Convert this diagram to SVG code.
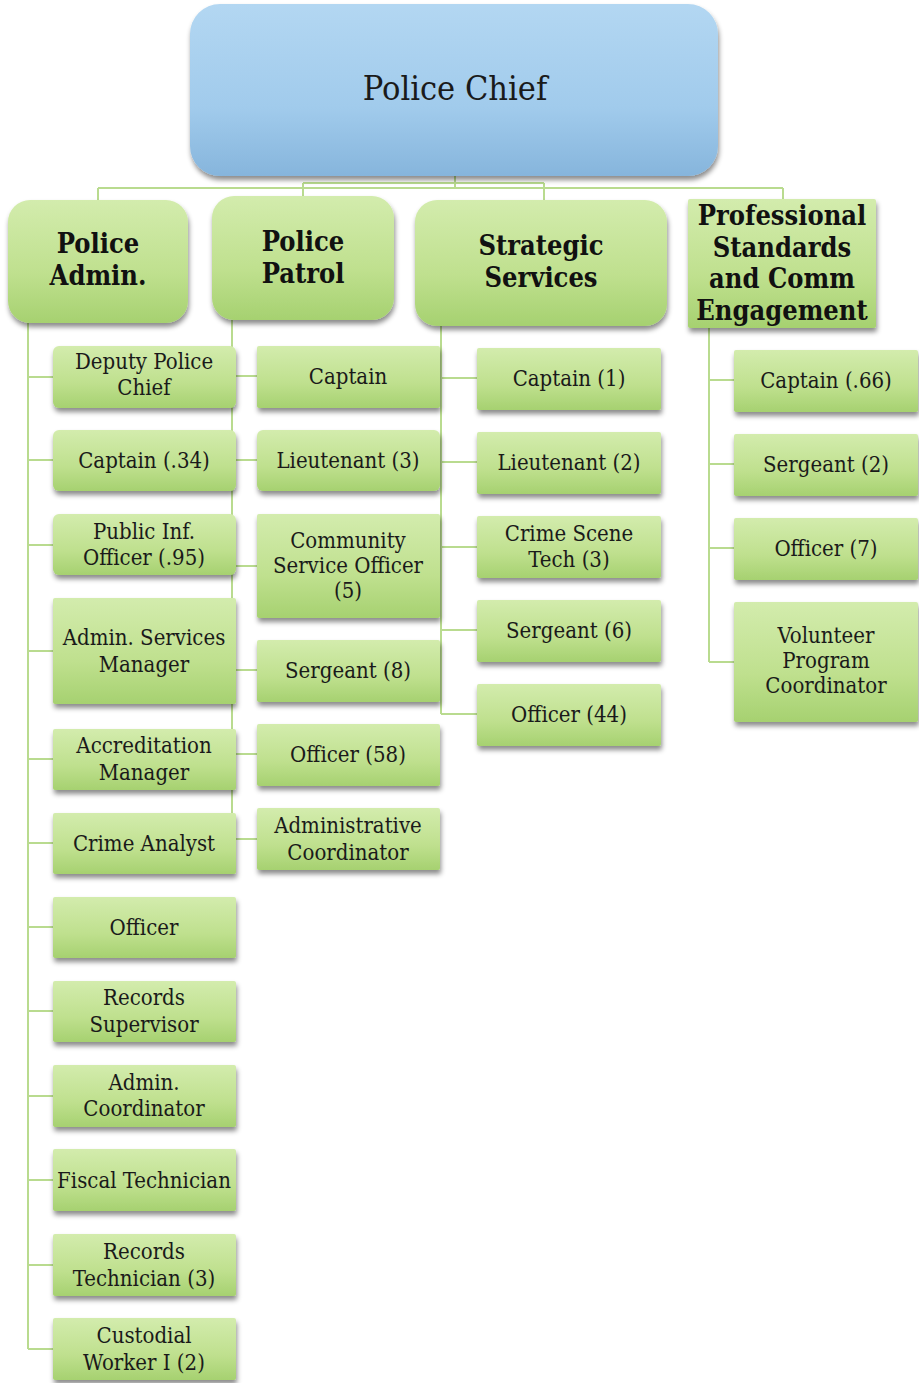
<svg xmlns="http://www.w3.org/2000/svg" width="919" height="1383" viewBox="0 0 919 1383">
<defs>
<linearGradient id="gBlue" x1="0" y1="0" x2="0" y2="1">
<stop offset="0" stop-color="#b3d7f2"/>
<stop offset="0.6" stop-color="#a1cbec"/>
<stop offset="1" stop-color="#86b5dc"/>
</linearGradient>
<linearGradient id="gGreen" x1="0" y1="0" x2="0" y2="1">
<stop offset="0" stop-color="#d3ecad"/>
<stop offset="0.6" stop-color="#bfe08e"/>
<stop offset="1" stop-color="#a6d170"/>
</linearGradient>
<filter id="sh" x="-10%" y="-10%" width="125%" height="130%">
<feDropShadow dx="1" dy="4" stdDeviation="2.5" flood-color="#000" flood-opacity="0.45"/>
</filter>
</defs>
<style>
.conn{fill:none;stroke:#b9db8f;stroke-width:2}
.chief{fill:url(#gBlue);filter:url(#sh)}
.head{fill:url(#gGreen);filter:url(#sh)}
.box{fill:url(#gGreen);filter:url(#sh)}
.tc{font-family:"DejaVu Serif Condensed","DejaVu Serif",serif;font-stretch:condensed;font-size:34px;fill:#1a1a1a;text-anchor:middle}
.th{font-family:"DejaVu Serif Condensed","DejaVu Serif",serif;font-stretch:condensed;font-size:27px;font-weight:bold;fill:#111;text-anchor:middle}
.tb{font-family:"DejaVu Serif Condensed","DejaVu Serif",serif;font-stretch:condensed;font-size:22px;fill:#1a1a1a;text-anchor:middle}
</style>
<rect width="919" height="1383" fill="#ffffff"/>
<g id="connectors">
<path class="conn" d="M455 176 V188 M98 188 H783 M303 183 H544 M98 188 V200 M303 183 V196 M544 183 V200 M783 188 V199"/>
<path class="conn" d="M28 323 V1349 M28 377 H53 M28 460 H53 M28 545 H53 M28 651 H53 M28 759 H53 M28 843 H53 M28 927 H53 M28 1011 H53 M28 1096 H53 M28 1180 H53 M28 1265 H53 M28 1349 H53"/>
<path class="conn" d="M232 320 V839 M232 376 H257 M232 460 H257 M232 566 H257 M232 670 H257 M232 754 H257 M232 839 H257"/>
<path class="conn" d="M441 326 V714 M441 378 H477 M441 462 H477 M441 547 H477 M441 630 H477 M441 714 H477"/>
<path class="conn" d="M709 328 V662 M709 380 H734 M709 464 H734 M709 548 H734 M709 662 H734"/>
</g>
<g id="police-chief">
<rect class="chief" x="190" y="4" width="528" height="172" rx="30"/>
<text class="tc" x="455" y="100">Police Chief</text>
</g>
<g id="police-admin">
<rect class="head" x="8" y="200" width="180" height="123" rx="22"/>
<text class="th" x="98" y="253">Police</text>
<text class="th" x="98" y="285">Admin.</text>
</g>
<g id="police-patrol">
<rect class="head" x="212" y="196" width="182" height="124" rx="22"/>
<text class="th" x="303" y="251">Police</text>
<text class="th" x="303" y="283">Patrol</text>
</g>
<g id="strategic-services">
<rect class="head" x="415" y="200" width="252" height="126" rx="22"/>
<text class="th" x="541" y="255">Strategic</text>
<text class="th" x="541" y="287">Services</text>
</g>
<g id="professional-standards">
<rect class="head" x="688" y="199" width="188" height="129" rx="2"/>
<text class="th" x="782" y="225">Professional</text>
<text class="th" x="782" y="257">Standards</text>
<text class="th" x="782" y="288">and Comm</text>
<text class="th" x="782" y="320">Engagement</text>
</g>
<!-- Police Admin column -->
<g id="deputy-police-chief"><rect class="box" x="53" y="346" width="183" height="62" rx="6"/><text class="tb" x="144" y="369">Deputy Police</text><text class="tb" x="144" y="395">Chief</text></g>
<g id="captain-34"><rect class="box" x="53" y="430" width="183" height="61" rx="6"/><text class="tb" x="144" y="468">Captain (.34)</text></g>
<g id="public-inf-officer"><rect class="box" x="53" y="514" width="183" height="61" rx="6"/><text class="tb" x="144" y="539">Public Inf.</text><text class="tb" x="144" y="565">Officer (.95)</text></g>
<g id="admin-services-manager"><rect class="box" x="53" y="598" width="183" height="106" rx="2"/><text class="tb" x="144" y="645">Admin. Services</text><text class="tb" x="144" y="672">Manager</text></g>
<g id="accreditation-manager"><rect class="box" x="53" y="729" width="183" height="61" rx="2"/><text class="tb" x="144" y="753">Accreditation</text><text class="tb" x="144" y="780">Manager</text></g>
<g id="crime-analyst"><rect class="box" x="53" y="813" width="183" height="61" rx="2"/><text class="tb" x="144" y="851">Crime Analyst</text></g>
<g id="admin-officer"><rect class="box" x="53" y="897" width="183" height="61" rx="2"/><text class="tb" x="144" y="935">Officer</text></g>
<g id="records-supervisor"><rect class="box" x="53" y="981" width="183" height="61" rx="2"/><text class="tb" x="144" y="1005">Records</text><text class="tb" x="144" y="1032">Supervisor</text></g>
<g id="admin-coordinator"><rect class="box" x="53" y="1065" width="183" height="62" rx="2"/><text class="tb" x="144" y="1090">Admin.</text><text class="tb" x="144" y="1116">Coordinator</text></g>
<g id="fiscal-technician"><rect class="box" x="53" y="1149" width="183" height="62" rx="2"/><text class="tb" x="144" y="1188">Fiscal Technician</text></g>
<g id="records-technician"><rect class="box" x="53" y="1234" width="183" height="62" rx="2"/><text class="tb" x="144" y="1259">Records</text><text class="tb" x="144" y="1286">Technician (3)</text></g>
<g id="custodial-worker"><rect class="box" x="53" y="1318" width="183" height="62" rx="2"/><text class="tb" x="144" y="1343">Custodial</text><text class="tb" x="144" y="1370">Worker I (2)</text></g>
<!-- Police Patrol column -->
<g id="patrol-captain"><rect class="box" x="257" y="346" width="183" height="62" rx="2"/><text class="tb" x="348" y="384">Captain</text></g>
<g id="patrol-lieutenant"><rect class="box" x="257" y="430" width="183" height="61" rx="6"/><text class="tb" x="348" y="468">Lieutenant (3)</text></g>
<g id="community-service-officer"><rect class="box" x="257" y="514" width="183" height="104" rx="2"/><text class="tb" x="348" y="548">Community</text><text class="tb" x="348" y="573">Service Officer</text><text class="tb" x="348" y="598">(5)</text></g>
<g id="patrol-sergeant"><rect class="box" x="257" y="640" width="183" height="62" rx="2"/><text class="tb" x="348" y="678">Sergeant (8)</text></g>
<g id="patrol-officer"><rect class="box" x="257" y="724" width="183" height="62" rx="2"/><text class="tb" x="348" y="762">Officer (58)</text></g>
<g id="administrative-coordinator"><rect class="box" x="257" y="808" width="183" height="62" rx="2"/><text class="tb" x="348" y="833">Administrative</text><text class="tb" x="348" y="860">Coordinator</text></g>
<!-- Strategic Services column -->
<g id="ss-captain"><rect class="box" x="477" y="348" width="184" height="62" rx="2"/><text class="tb" x="569" y="386">Captain (1)</text></g>
<g id="ss-lieutenant"><rect class="box" x="477" y="432" width="184" height="62" rx="2"/><text class="tb" x="569" y="470">Lieutenant (2)</text></g>
<g id="crime-scene-tech"><rect class="box" x="477" y="516" width="184" height="62" rx="2"/><text class="tb" x="569" y="541">Crime Scene</text><text class="tb" x="569" y="567">Tech (3)</text></g>
<g id="ss-sergeant"><rect class="box" x="477" y="600" width="184" height="62" rx="2"/><text class="tb" x="569" y="638">Sergeant (6)</text></g>
<g id="ss-officer"><rect class="box" x="477" y="684" width="184" height="62" rx="2"/><text class="tb" x="569" y="722">Officer (44)</text></g>
<!-- Professional Standards column -->
<g id="ps-captain"><rect class="box" x="734" y="350" width="184" height="62" rx="2"/><text class="tb" x="826" y="388">Captain (.66)</text></g>
<g id="ps-sergeant"><rect class="box" x="734" y="434" width="184" height="62" rx="2"/><text class="tb" x="826" y="472">Sergeant (2)</text></g>
<g id="ps-officer"><rect class="box" x="734" y="518" width="184" height="62" rx="2"/><text class="tb" x="826" y="556">Officer (7)</text></g>
<g id="volunteer-program-coordinator"><rect class="box" x="734" y="602" width="184" height="120" rx="2"/><text class="tb" x="826" y="643">Volunteer</text><text class="tb" x="826" y="668">Program</text><text class="tb" x="826" y="693">Coordinator</text></g>
</svg>
